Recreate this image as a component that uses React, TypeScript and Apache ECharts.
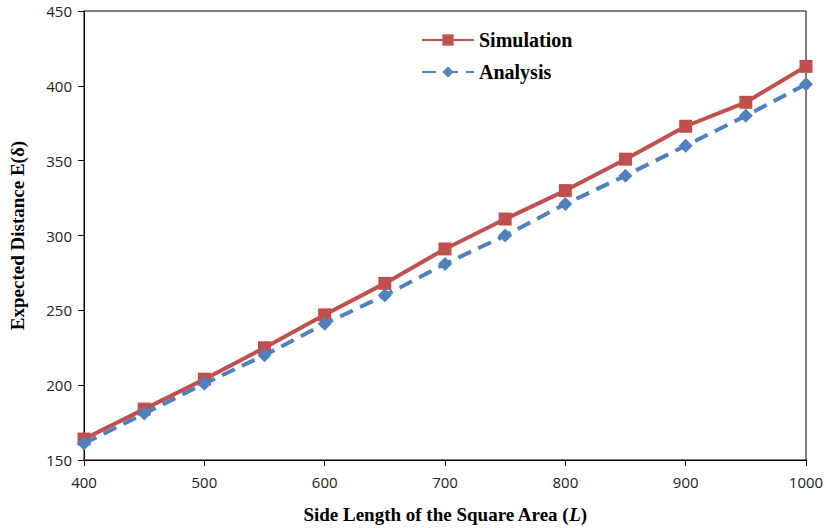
import React, { useEffect, useRef } from "react";
import * as echarts from "echarts";

const sideLengths = [400, 450, 500, 550, 600, 650, 700, 750, 800, 850, 900, 950, 1000];
const simulation = [164, 184, 204, 225, 247, 268, 291, 311, 330, 351, 373, 389, 413];
const analysis = [161, 181, 201, 220, 241, 260, 281, 300, 321, 340, 360, 380, 401];

export default function App() {
  const ref = useRef<HTMLDivElement>(null);
  useEffect(() => {
    if (!ref.current) return;
    const chart = echarts.init(ref.current, null, { renderer: "svg" });
    const tickFont = { fontFamily: "Open Sans", fontSize: 15, color: "#222" };
    const serif = "Liberation Serif, Times New Roman, serif";
    const titleFont = { fontFamily: serif, fontWeight: "bold" as const, fontSize: 19, color: "#000" };
    chart.setOption({
      animation: false,
      backgroundColor: "#fff",
      grid: {
        left: 84, right: 20, top: 11, bottom: 68,
        show: true, borderColor: "#000", borderWidth: 1,
        containLabel: false, outerBoundsMode: "none",
      },
      legend: {
        orient: "vertical",
        left: 416,
        top: 25,
        itemWidth: 52,
        itemHeight: 14,
        itemGap: 12,
        textStyle: { fontFamily: serif, fontWeight: "bold", fontSize: 20, color: "#000" },
        data: ["Simulation", "Analysis"],
      },
      xAxis: {
        type: "value",
        min: 400,
        max: 1000,
        interval: 100,
        name: "Side Length of the Square Area ({i|L})",
        nameLocation: "middle",
        nameGap: 45,
        nameTextStyle: {
          ...titleFont,
          rich: { i: { ...titleFont, fontStyle: "italic" } },
        },
        axisLine: { lineStyle: { color: "#000", width: 1 } },
        axisTick: { show: true, length: 6, lineStyle: { color: "#000" } },
        axisLabel: { ...tickFont, margin: 14, formatter: (v: number) => String(v) },
        splitLine: { show: false },
      },
      yAxis: {
        type: "value",
        min: 150,
        max: 450,
        interval: 50,
        name: "Expected Distance E(δ)",
        nameLocation: "middle",
        nameGap: 57,
        nameTextStyle: titleFont,
        axisLine: { show: true, lineStyle: { color: "#000", width: 1 } },
        axisTick: { show: true, length: 6, lineStyle: { color: "#000" } },
        axisLabel: { ...tickFont, margin: 12 },
        splitLine: { show: false },
      },
      series: [
        {
          name: "Simulation",
          type: "line",
          data: sideLengths.map((x, i) => [x, simulation[i]]),
          symbol: "rect",
          symbolSize: 13,
          itemStyle: { color: "#C0504D" },
          lineStyle: { color: "#C0504D", width: 4 },
          z: 2,
        },
        {
          name: "Analysis",
          type: "line",
          data: sideLengths.map((x, i) => [x, analysis[i]]),
          symbol: "diamond",
          symbolSize: 14,
          itemStyle: { color: "#4F81BD" },
          lineStyle: { color: "#4F81BD", width: 4, type: [14, 8] },
          z: 3,
        },
      ],
    });
    return () => chart.dispose();
  }, []);
  return <div ref={ref} style={{ width: 826, height: 528, position: "absolute", left: 0, top: 0 }} />;
}
